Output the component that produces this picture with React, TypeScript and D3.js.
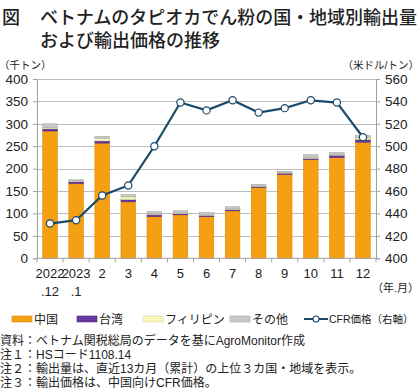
import React, { useEffect, useRef } from 'react';
import * as d3 from 'd3';

// category labels (two lines on the x axis)
const months = ['2022.12', '2023.1', '2', '3', '4', '5', '6', '7', '8', '9', '10', '11', '12'];
const tickLine1 = ['2022', '2023', '2', '3', '4', '5', '6', '7', '8', '9', '10', '11', '12'];
const tickLine2 = ['.12', '.1', '', '', '', '', '', '', '', '', '', '', ''];

// export volume, thousand tonnes
const china = [284, 167, 257, 126, 93, 97, 93, 106, 158, 187, 220, 225, 259];
const taiwan = [5, 4, 5, 5, 5, 3, 3, 3, 2, 3, 3, 5, 6];
const philippines = [3, 2, 5, 6, 2, 1, 1, 1, 1, 1, 2, 2, 4];
const others = [8, 2, 5, 5, 4, 5, 5, 5, 4, 3, 6, 4, 5];

// CFR price, USD/tonne
const cfrPrice = [431, 434, 456, 465, 500, 539, 532, 541, 530, 534, 541, 539, 508];

const leftTicks = [0, 50, 100, 150, 200, 250, 300, 350, 400];
const rightTicks = [400, 420, 440, 460, 480, 500, 520, 540, 560];

const seriesKeys = ['china', 'taiwan', 'philippines', 'others'];
const seriesNames = ['中国', '台湾', 'フィリピン', 'その他'];
const seriesFill = ['#F4A012', 'url(#twPat)', 'url(#phPat)', '#C8C8C8'];
const seriesStroke = ['#D98A0A', '#5B2C8A', '#D8D8A0', '#A8A8A8'];

const notes = [
  '資料：ベトナム関税総局のデータを基にAgroMonitor作成',
  '注１：HSコード1108.14',
  '注２：輸出量は、直近13カ月（累計）の上位３カ国・地域を表示。',
  '注３：輸出価格は、中国向けCFR価格。',
];

const FONT = '"Liberation Sans", "Noto Sans CJK JP", sans-serif';
const CJK = '"Noto Sans CJK JP", sans-serif';

export default function App() {
  const ref = useRef<HTMLDivElement>(null);

  useEffect(() => {
    const width = 420;
    const height = 390;
    const margin = { top: 79, right: 44, bottom: 132, left: 37 };

    d3.select(ref.current).selectAll('*').remove();

    const svg = d3.select(ref.current)
      .append('svg')
      .attr('width', width)
      .attr('height', height)
      .style('position', 'absolute')
      .style('left', 0)
      .style('top', 0)
      .style('font-family', FONT);

    svg.append('rect').attr('width', width).attr('height', height).attr('fill', '#fff');

    const defs = svg.append('defs');
    const tw = defs.append('pattern').attr('id', 'twPat')
      .attr('patternUnits', 'userSpaceOnUse').attr('width', 2).attr('height', 2);
    tw.append('rect').attr('width', 2).attr('height', 2).attr('fill', '#7040A8');
    tw.append('rect').attr('width', 1).attr('height', 1).attr('fill', '#4A2478');
    const ph = defs.append('pattern').attr('id', 'phPat')
      .attr('patternUnits', 'userSpaceOnUse').attr('width', 2).attr('height', 2);
    ph.append('rect').attr('width', 2).attr('height', 2).attr('fill', '#FFFFC8');
    ph.append('rect').attr('width', 1).attr('height', 1).attr('fill', '#E8E890');

    const x = d3.scaleBand()
      .domain(months)
      .range([margin.left, width - margin.right])
      .paddingInner(0.44)
      .paddingOuter(0.22);

    const y = d3.scaleLinear()
      .domain([0, 400])
      .range([height - margin.bottom + 0.3, margin.top]);

    const y2 = d3.scaleLinear()
      .domain([400, 560])
      .range([height - margin.bottom + 0.3, margin.top]);

    // Title
    const title = svg.append('g').style('font-family', CJK).attr('fill', '#222');
    title.append('text').attr('x', 2).attr('y', 24)
      .attr('font-size', 18).attr('font-weight', 500).text('図');
    title.append('text').attr('x', 40).attr('y', 24)
      .attr('font-size', 18).attr('font-weight', 500)
      .attr('textLength', 377).attr('lengthAdjust', 'spacingAndGlyphs')
      .text('ベトナムのタピオカでん粉の国・地域別輸出量');
    title.append('text').attr('x', 40).attr('y', 47)
      .attr('font-size', 18).attr('font-weight', 500)
      .text('および輸出価格の推移');

    // unit labels
    svg.append('text').attr('x', -1).attr('y', 69)
      .attr('font-size', 10.5).attr('fill', '#222').text('（千トン）');
    svg.append('text').attr('x', 419).attr('y', 69).attr('text-anchor', 'end')
      .attr('font-size', 10.5).attr('fill', '#222').text('（米ドル/トン）');

    // gridlines
    svg.append('g')
      .selectAll('line')
      .data(leftTicks.filter(t => t > 0))
      .enter()
      .append('line')
      .attr('x1', margin.left).attr('x2', width - margin.right)
      .attr('y1', d => Math.round(y(d)) + 0.5).attr('y2', d => Math.round(y(d)) + 0.5)
      .attr('stroke', '#BDBDBD').attr('stroke-width', 1.2);

    // stacked bars
    const table = months.map((m, i) => ({
      month: m, china: china[i], taiwan: taiwan[i], philippines: philippines[i], others: others[i],
    }));
    const stacked = d3.stack<any>().keys(seriesKeys)(table);

    stacked.forEach((layer, li) => {
      svg.append('g')
        .selectAll('rect')
        .data(layer)
        .enter()
        .append('rect')
        .attr('x', d => x(d.data.month)!)
        .attr('width', x.bandwidth())
        .attr('y', d => y(d[1]))
        .attr('height', d => y(d[0]) - y(d[1]))
        .attr('fill', seriesFill[li])
        .attr('stroke', seriesStroke[li])
        .attr('stroke-width', 0.6);
    });

    // axes
    const axisColor = '#A0A0A0';
    const yAxis = svg.append('g')
      .attr('transform', `translate(${margin.left},0)`)
      .call(d3.axisLeft(y).tickValues(leftTicks).tickSize(4).tickPadding(5));
    yAxis.select('.domain').attr('stroke', axisColor);
    yAxis.selectAll('.tick line').attr('stroke', axisColor);
    yAxis.selectAll('text').attr('font-size', 13.5).attr('fill', '#222').style('font-family', FONT);

    const y2Axis = svg.append('g')
      .attr('transform', `translate(${width - margin.right},0)`)
      .call(d3.axisRight(y2).tickValues(rightTicks).tickSize(4).tickPadding(5));
    y2Axis.select('.domain').attr('stroke', axisColor);
    y2Axis.selectAll('.tick line').attr('stroke', axisColor);
    y2Axis.selectAll('text').attr('font-size', 13.5).attr('fill', '#222').style('font-family', FONT);

    const baseY = y(0);
    svg.append('line')
      .attr('x1', margin.left).attr('x2', width - margin.right)
      .attr('y1', baseY).attr('y2', baseY)
      .attr('stroke', axisColor);

    // tick marks between categories
    const step = x.step();
    svg.append('g')
      .selectAll('line')
      .data(d3.range(months.length + 1))
      .enter()
      .append('line')
      .attr('x1', i => margin.left + i * step)
      .attr('x2', i => margin.left + i * step)
      .attr('y1', baseY).attr('y2', baseY + 4)
      .attr('stroke', axisColor);

    const xLabels = svg.append('g');
    months.forEach((m, i) => {
      const cx = x(m)! + x.bandwidth() / 2;
      xLabels.append('text').attr('x', cx).attr('y', 278)
        .attr('text-anchor', 'middle').attr('font-size', 13).attr('fill', '#222')
        .text(tickLine1[i]);
      if (tickLine2[i]) {
        xLabels.append('text').attr('x', cx).attr('y', 296)
          .attr('text-anchor', 'middle').attr('font-size', 13).attr('fill', '#222')
          .text(tickLine2[i]);
      }
    });
    svg.append('text').attr('x', 419).attr('y', 292).attr('text-anchor', 'end')
      .attr('font-size', 11).attr('fill', '#222').text('（年.月）');

    // price line
    const line = d3.line<number>()
      .x((_, i) => x(months[i])! + x.bandwidth() / 2)
      .y(d => y2(d));
    svg.append('path')
      .attr('d', line(cfrPrice))
      .attr('fill', 'none')
      .attr('stroke', '#1B4A6B')
      .attr('stroke-width', 2.2);
    svg.append('g')
      .selectAll('circle')
      .data(cfrPrice)
      .enter()
      .append('circle')
      .attr('cx', (_, i) => x(months[i])! + x.bandwidth() / 2)
      .attr('cy', d => y2(d))
      .attr('r', 3.6)
      .attr('fill', '#fff')
      .attr('stroke', '#1B4A6B')
      .attr('stroke-width', 1.2);

    // legend
    const legY = 319;
    const legX = [12, 77, 143, 230];
    seriesNames.forEach((name, i) => {
      svg.append('rect').attr('x', legX[i]).attr('y', legY - 3).attr('width', 20).attr('height', 6)
        .attr('fill', seriesFill[i]).attr('stroke', seriesStroke[i]).attr('stroke-width', 0.6);
      svg.append('text').attr('x', legX[i] + 22).attr('y', legY + 4.5)
        .attr('font-size', 12).attr('fill', '#222').text(name);
    });
    svg.append('line').attr('x1', 304).attr('x2', 328).attr('y1', legY).attr('y2', legY)
      .attr('stroke', '#1B4A6B').attr('stroke-width', 2);
    svg.append('circle').attr('cx', 316).attr('cy', legY).attr('r', 3)
      .attr('fill', '#fff').attr('stroke', '#1B4A6B').attr('stroke-width', 1.1);
    svg.append('text').attr('x', 329).attr('y', legY + 4)
      .attr('font-size', 10.5).attr('fill', '#222')
      .text('CFR価格（右軸）');

    // notes
    notes.forEach((t, i) => {
      svg.append('text').attr('x', 0).attr('y', 344.5 + i * 14)
        .attr('font-size', 12).attr('fill', '#222').text(t);
    });
  }, []);

  return <div ref={ref} />;
}
